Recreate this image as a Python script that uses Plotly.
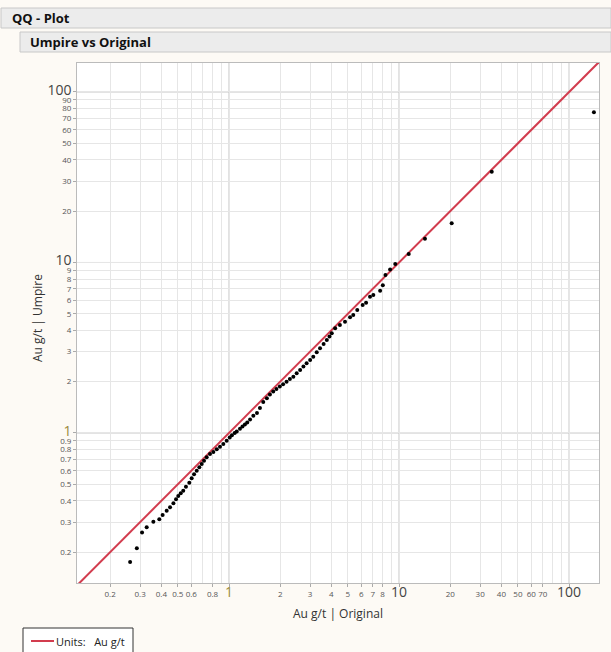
import plotly.graph_objects as go

# ---- data ----
original = [0.262, 0.287, 0.308, 0.328, 0.359, 0.389, 0.407, 0.430, 0.450, 0.471,
            0.488, 0.503, 0.520, 0.538, 0.558, 0.584, 0.603, 0.623, 0.646, 0.669,
            0.691, 0.713, 0.739, 0.773, 0.809, 0.847, 0.885, 0.926, 0.969, 1.01,
            1.04, 1.08, 1.11, 1.16, 1.20, 1.24, 1.28, 1.33, 1.39, 1.46,
            1.52, 1.59, 1.67, 1.74, 1.82, 1.90, 1.99, 2.08, 2.18, 2.28,
            2.39, 2.50, 2.62, 2.74, 2.86, 3.00, 3.13, 3.28, 3.43, 3.60,
            3.76, 3.90, 4.02, 4.21, 4.49, 4.81, 5.15, 5.38, 5.68, 6.11,
            6.40, 6.75, 7.06, 7.74, 8.03, 8.32, 8.86, 9.5, 11.4, 14.2,
            20.4, 35.1, 140]
umpire = [0.175, 0.211, 0.261, 0.280, 0.301, 0.312, 0.330, 0.350, 0.367, 0.387,
          0.409, 0.427, 0.443, 0.459, 0.484, 0.511, 0.542, 0.573, 0.601, 0.629,
          0.658, 0.688, 0.720, 0.753, 0.774, 0.802, 0.831, 0.862, 0.901, 0.94,
          0.97, 1.00, 1.02, 1.06, 1.09, 1.12, 1.15, 1.20, 1.26, 1.31,
          1.40, 1.52, 1.60, 1.68, 1.75, 1.81, 1.87, 1.93, 2.00, 2.07,
          2.14, 2.24, 2.34, 2.45, 2.56, 2.68, 2.80, 2.97, 3.14, 3.33,
          3.51, 3.68, 3.84, 4.11, 4.30, 4.49, 4.77, 4.92, 5.27, 5.64,
          5.81, 6.30, 6.44, 6.83, 7.35, 8.44, 9.10, 9.8, 11.2, 13.8,
          17.0, 34.0, 76.0]

ref_line = [0.1, 200]

x_ticks = [0.2, 0.3, 0.4, 0.5, 0.6, 0.8, 1, 2, 3, 4, 5, 6, 7, 8, 10,
           20, 30, 40, 50, 60, 70, 100]
x_minor = [0.7, 0.9, 9, 80, 90]
y_ticks = [0.2, 0.3, 0.4, 0.5, 0.6, 0.7, 0.8, 0.9, 1, 2, 3, 4, 5, 6, 7, 8, 9, 10,
           20, 30, 40, 50, 60, 70, 80, 90, 100]
decades = [1, 10, 100]

title_main = "QQ - Plot"
title_sub = "Umpire vs Original"
x_title = "Au g/t | Original"
y_title = "Au g/t | Umpire"
legend_label = "Units:&nbsp;&nbsp; Au g/t"


def fmt(v):
    s = ("%g" % v)
    if v in decades:
        col = "#9a8a3a" if v == 1 else "#444"
        return "<span style='font-size:14px;color:%s'>%s</span>" % (col, s)
    return s


W, H = 611, 652
L, R, T, B = 77, 12, 63, 69
pw, ph = W - L - R, H - T - B


def px(xp):
    return (xp - L) / pw


def py(yp):
    return (H - B - yp) / ph


fig = go.Figure()
fig.add_trace(go.Scatter(x=ref_line, y=ref_line, mode="lines",
                         line=dict(color="#d23c4e", width=2),
                         showlegend=False, hoverinfo="skip"))
fig.add_trace(go.Scatter(x=original, y=umpire, mode="markers",
                         marker=dict(color="black", size=4),
                         showlegend=False))

grid_minor = "#e6e6e6"
axis_common = dict(type="log", showgrid=True, gridcolor=grid_minor, gridwidth=1,
                   ticks="outside", ticklen=3, tickcolor="#aaa", tickangle=0,
                   automargin=False,
                   tickfont=dict(family="Open Sans", size=8, color="#555"),
                   showline=True, linecolor="#bbb", mirror=True, zeroline=False)

fig.update_xaxes(**axis_common, range=[-0.894, 2.176],
                 tickvals=x_ticks, ticktext=[fmt(v) for v in x_ticks],
                 minor=dict(tickvals=x_minor, showgrid=True, gridcolor=grid_minor, ticks=""),
                 title=dict(text=""))
fig.update_yaxes(**axis_common, range=[-0.880, 2.170],
                 tickvals=y_ticks, ticktext=[fmt(v) for v in y_ticks],
                 title=dict(text=""))

shapes = []
for d in decades:
    shapes.append(dict(type="line", xref="x", yref="paper", x0=d, x1=d, y0=0, y1=1,
                       line=dict(color="#c4c4c4", width=1), layer="below"))
    shapes.append(dict(type="line", xref="paper", yref="y", x0=0, x1=1, y0=d, y1=d,
                       line=dict(color="#c4c4c4", width=1), layer="below"))
# header bars
shapes.append(dict(type="rect", xref="paper", yref="paper",
                   x0=px(1), x1=px(611), y0=py(28), y1=py(8),
                   fillcolor="#ececec", line=dict(color="#c8c8c8", width=1)))
shapes.append(dict(type="rect", xref="paper", yref="paper",
                   x0=px(20), x1=px(611), y0=py(52), y1=py(32),
                   fillcolor="#ececec", line=dict(color="#c8c8c8", width=1)))
# legend box
shapes.append(dict(type="rect", xref="paper", yref="paper",
                   x0=px(23), x1=px(133), y0=py(655), y1=py(628),
                   fillcolor="white", line=dict(color="#333", width=1)))
shapes.append(dict(type="line", xref="paper", yref="paper",
                   x0=px(31), x1=px(54), y0=py(641), y1=py(641),
                   line=dict(color="#d23c4e", width=2)))

annotations = [
    dict(text="<b>" + title_main + "</b>", xref="paper", yref="paper",
         x=px(10), y=py(18), xanchor="left", yanchor="middle", showarrow=False,
         font=dict(family="Open Sans", size=13, color="#111")),
    dict(text="<b>" + title_sub + "</b>", xref="paper", yref="paper",
         x=px(28), y=py(42), xanchor="left", yanchor="middle", showarrow=False,
         font=dict(family="Open Sans", size=13, color="#111")),
    dict(text=legend_label, xref="paper", yref="paper",
         x=px(54), y=py(641), xanchor="left", yanchor="middle", showarrow=False,
         font=dict(family="Open Sans", size=11, color="#222")),
    dict(text=x_title, xref="paper", yref="paper",
         x=0.5, y=py(613), xanchor="center", yanchor="middle", showarrow=False,
         font=dict(family="Open Sans", size=12, color="#333")),
    dict(text=y_title, xref="paper", yref="paper", textangle=-90,
         x=px(37), y=py(318), xanchor="center", yanchor="middle", showarrow=False,
         font=dict(family="Open Sans", size=12, color="#333")),
]

fig.update_layout(
    width=W, height=H,
    margin=dict(l=L, r=R, t=T, b=B, autoexpand=False),
    paper_bgcolor="#fdfaf5", plot_bgcolor="white",
    shapes=shapes, annotations=annotations,
    showlegend=False,
)

fig.write_html("out.html", config={"displayModeBar": False},
               post_script="document.body.style.margin='0';document.body.style.overflow='hidden';")
